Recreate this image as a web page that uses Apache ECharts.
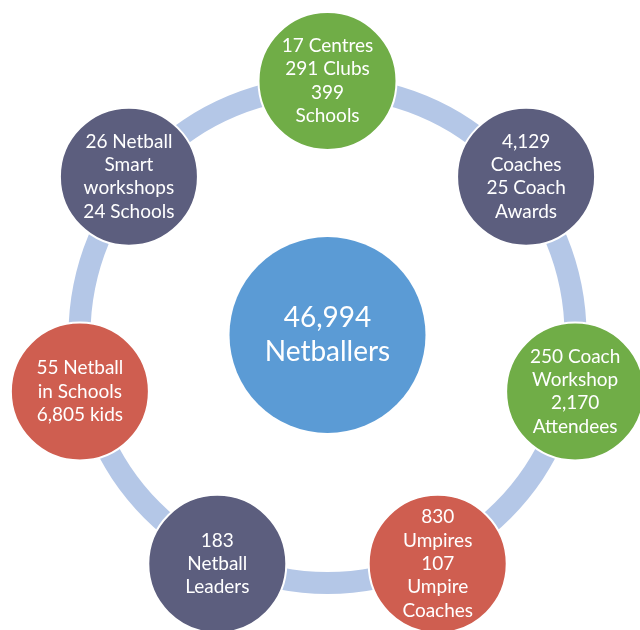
<!DOCTYPE html>
<html>
<head>
<meta charset="utf-8">
<script src="https://cdn.jsdelivr.net/npm/echarts@6/dist/echarts.min.js"></script>
<style>
html,body{margin:0;padding:0;background:#fff;}
#chart{width:640px;height:630px;}
</style>
</head>
<body>
<div id="chart"></div>
<script>
// Data
var centerLabel = "46,994\nNetballers";
var nodeLabels = [
  "17 Centres\n291 Clubs\n399\nSchools",
  "4,129\nCoaches\n25 Coach\nAwards",
  "250 Coach\nWorkshop\n2,170\nAttendees",
  "830\nUmpires\n107\nUmpire\nCoaches",
  "183\nNetball\nLeaders",
  "55 Netball\nin Schools\n6,805 kids",
  "26 Netball\nSmart\nworkshops\n24 Schools"
];
var nodeColors = ["#70ad47", "#5c5e7e", "#70ad47", "#cf5e50", "#5c5e7e", "#cf5e50", "#5c5e7e"];

var CX = 327.5, CY = 335;
var n = nodeLabels.length;
var nodeData = nodeLabels.map(function (t, i) {
  return {
    value: [1, i * 360 / n],
    name: t,
    itemStyle: { color: nodeColors[i] }
  };
});

var chart = echarts.init(document.getElementById('chart'), null, { renderer: 'canvas' });
chart.setOption({
  animation: false,
  backgroundColor: '#ffffff',
  polar: { center: [CX, CY], radius: 254 },
  angleAxis: { type: 'value', min: 0, max: 360, startAngle: 90, clockwise: true, show: false },
  radiusAxis: { type: 'value', min: 0, max: 1, show: false },
  series: [
    {
      type: 'pie',
      z: 1,
      silent: true,
      center: [CX, CY],
      radius: [237, 259],
      label: { show: false },
      labelLine: { show: false },
      itemStyle: { color: '#b4c7e7', borderWidth: 0 },
      data: [{ value: 1, name: 'ring' }]
    },
    {
      type: 'scatter',
      coordinateSystem: 'polar',
      z: 3,
      symbol: 'circle',
      symbolSize: 138,
      itemStyle: { borderColor: '#ffffff', borderWidth: 2, opacity: 1 },
      label: {
        show: true,
        position: 'inside',
        formatter: function (p) { return p.name; },
        color: '#ffffff',
        fontFamily: 'Lato',
        fontSize: 19,
        lineHeight: 23.3,
        align: 'center',
        verticalAlign: 'middle'
      },
      data: nodeData
    },
    {
      type: 'scatter',
      coordinateSystem: 'polar',
      z: 3,
      symbol: 'circle',
      symbolSize: 196,
      itemStyle: { color: '#5b9bd5', opacity: 1 },
      label: {
        show: true,
        position: 'inside',
        formatter: function (p) { return p.name; },
        color: '#ffffff',
        fontFamily: 'Lato',
        fontSize: 28,
        lineHeight: 34,
        align: 'center',
        verticalAlign: 'middle'
      },
      data: [{ value: [0, 0], name: centerLabel }]
    }
  ]
});
</script>
</body>
</html>
